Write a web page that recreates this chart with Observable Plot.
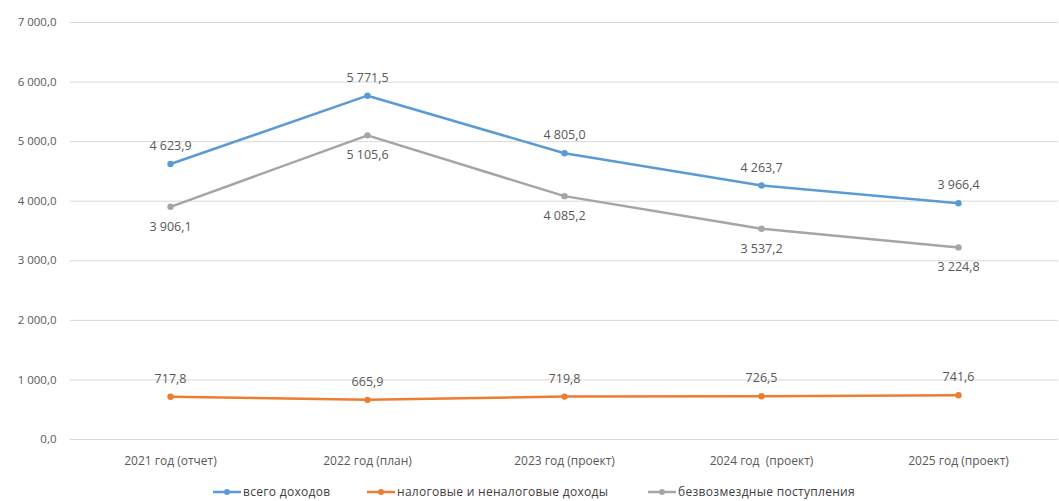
<!DOCTYPE html>
<html><head><meta charset="utf-8">
<script src="https://cdn.jsdelivr.net/npm/d3@7"></script>
<script src="https://cdn.jsdelivr.net/npm/@observablehq/plot@0.6"></script>
<style>
body{margin:0;background:#fff;font-family:"Open Sans",sans-serif;overflow:hidden;}
#legend{position:relative;height:26px;font-size:12px;color:#404040;}
.item{position:absolute;top:10px;display:flex;align-items:center;gap:2px;white-space:nowrap;letter-spacing:0.3px;line-height:14px;}
</style></head><body>
<div id="chart"></div>
<div id="legend"></div>
<script>
const categories = ["2021 год (отчет)", "2022 год (план)", "2023 год (проект)", "2024 год  (проект)", "2025 год (проект)"];
const total = [4623.9, 5771.5, 4805.0, 4263.7, 3966.4];
const ownRevenue = [717.8, 665.9, 719.8, 726.5, 741.6];
const transfers = [3906.1, 5105.6, 4085.2, 3537.2, 3224.8];
const seriesNames = ["всего доходов", "налоговые и неналоговые доходы", "безвозмездные поступления"];
const colors = ["#5B9BD5", "#ED7D31", "#A5A5A5"];
const yTicks = [0, 1000, 2000, 3000, 4000, 5000, 6000, 7000];

const locale = d3.formatLocale({decimal: ",", thousands: "\u00a0", grouping: [3], currency: ["", ""]});
const fmt = locale.format(",.1f");

const seriesValues = [total, ownRevenue, transfers];
const data = [];
seriesValues.forEach((vals, s) => vals.forEach((v, i) => data.push({cat: categories[i], value: v, series: seriesNames[s]})));
const labelDy = {"всего доходов": -18, "налоговые и неналоговые доходы": -18, "безвозмездные поступления": 20};

const chart = Plot.plot({
  width: 1059, height: 475,
  marginLeft: 70, marginRight: 1, marginTop: 22, marginBottom: 36,
  style: {fontFamily: "Open Sans, sans-serif", fontSize: "12px", color: "#595959"},
  x: {type: "point", domain: categories, padding: 0.5, label: null},
  y: {domain: [0, 7000], label: null},
  color: {domain: seriesNames, range: colors},
  marks: [
    Plot.ruleY(yTicks, {stroke: "#d9d9d9", strokeWidth: 1}),
    Plot.axisY({ticks: yTicks, tickSize: 0, tickPadding: 14, tickFormat: fmt, fontSize: 11.5, fill: "#595959"}),
    Plot.axisX({tickSize: 0, tickPadding: 17, fontSize: 12, fill: "#595959"}),
    Plot.line(data, {x: "cat", y: "value", z: "series", stroke: "series", strokeWidth: 2.5}),
    Plot.dot(data, {x: "cat", y: "value", fill: "series", r: 3.2, stroke: null}),
    ...seriesNames.map(name => Plot.text(data.filter(d => d.series === name), {
      x: "cat", y: "value", text: d => fmt(d.value), dy: labelDy[name], fill: "#595959", fontSize: 12.5
    }))
  ]
});
document.getElementById("chart").appendChild(chart);

const legendLeft = [213, 367, 648];
const legend = document.getElementById("legend");
seriesNames.forEach((n, i) => {
  const it = document.createElement("div"); it.className = "item";
  it.style.left = legendLeft[i] + "px";
  it.innerHTML = `<svg width="28" height="10"><line x1="0" y1="5" x2="28" y2="5" stroke="${colors[i]}" stroke-width="2.5"/><circle cx="14" cy="5" r="3" fill="${colors[i]}"/></svg><span>${n}</span>`;
  legend.appendChild(it);
});
</script></body></html>
